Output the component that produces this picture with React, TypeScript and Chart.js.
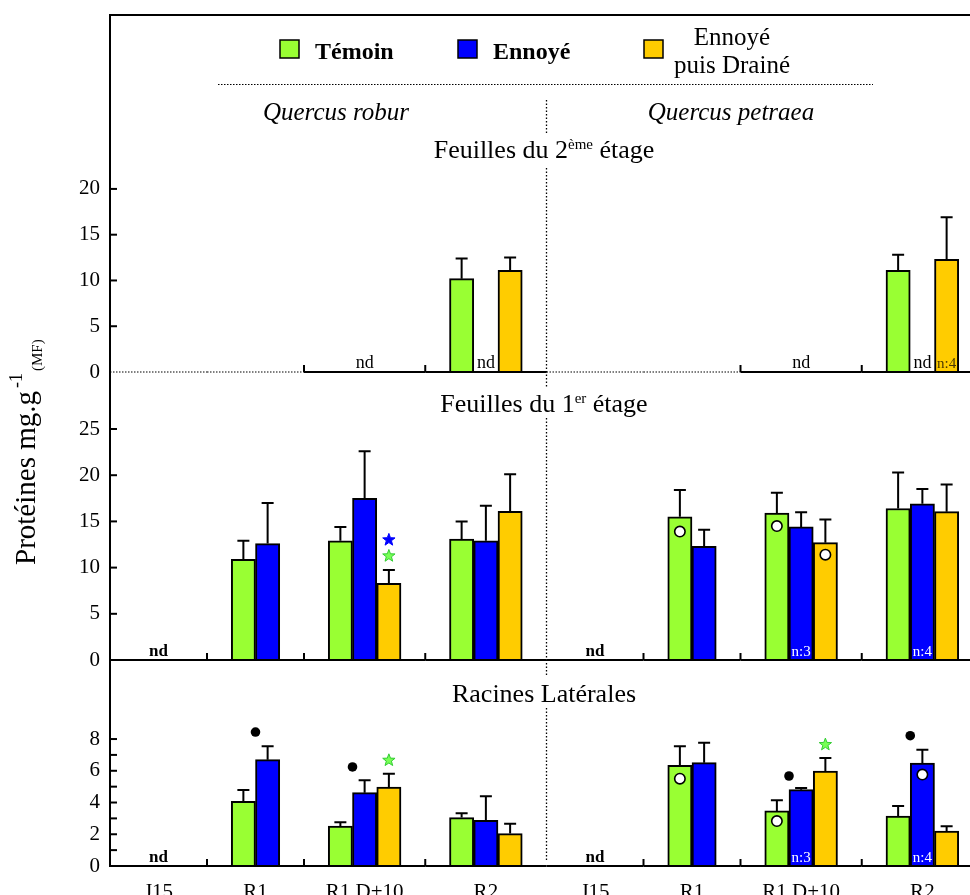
import React, { useEffect, useRef } from 'react';
import { Chart, registerables } from 'chart.js';

Chart.register(...registerables);

// ---------- data ----------
const groups = ['J15', 'R1', 'R1 D+10', 'R2', 'J15', 'R1', 'R1 D+10', 'R2'];
const groupSlots = [4, 4, 5, 5, 4, 4, 5, 5];
const speciesNames = ['Quercus robur', 'Quercus petraea'];
const seriesNames = ['Témoin', 'Ennoyé', 'Ennoyé puis Drainé'];

// Feuilles du 2ème étage
const f2Temoin = [null, null, null, 10.2, null, null, null, 11.1];
const f2TemoinErr = [null, null, null, 2.2, null, null, null, 1.7];
const f2Ennoye = [null, null, null, null, null, null, null, null];
const f2EnnoyeErr = [null, null, null, null, null, null, null, null];
const f2Draine = [null, null, null, 11.1, null, null, null, 12.3];
const f2DraineErr = [null, null, null, 1.4, null, null, null, 4.6];
const f2Sampled = [false, false, true, true, false, false, true, true];
const f2Ticks = [0, 5, 10, 15, 20];
const f2Nd = [{ g: 2, pos: 1 }, { g: 3, pos: 1 }, { g: 6, pos: 1 }, { g: 7, pos: 1 }];
const f2N = [{ g: 7, pos: 2, text: 'n:4' }];

// Feuilles du 1er étage
const f1Temoin = [null, 10.9, 12.9, 13.1, null, 15.5, 15.9, 16.4];
const f1TemoinErr = [null, 2.0, 1.5, 1.9, null, 2.9, 2.2, 3.9];
const f1Ennoye = [null, 12.6, 17.5, 12.9, null, 12.3, 14.4, 16.9];
const f1EnnoyeErr = [null, 4.4, 5.1, 3.8, null, 1.8, 1.6, 1.6];
const f1Draine = [null, null, 8.3, 16.1, null, null, 12.7, 16.05];
const f1DraineErr = [null, null, 1.45, 4.0, null, null, 2.5, 2.95];
const f1Sampled = [true, true, true, true, true, true, true, true];
const f1Ticks = [0, 5, 10, 15, 20, 25];
const f1Nd = [{ g: 0, pos: 0.5 }, { g: 4, pos: 0.5 }];
const f1N = [{ g: 6, pos: 1, text: 'n:3' }, { g: 7, pos: 1, text: 'n:4' }];
const f1Marks = [
  { g: 2, pos: 2, v: 13.0, kind: 'starBlue' },
  { g: 2, pos: 2, v: 11.26, kind: 'starGreen' },
  { g: 5, pos: 0, v: 13.9, kind: 'open' },
  { g: 6, pos: 0, v: 14.5, kind: 'open' },
  { g: 6, pos: 2, v: 11.4, kind: 'open' },
];

// Racines Latérales
const rTemoin = [null, 4.08, 2.52, 3.05, null, 6.34, 3.47, 3.15];
const rTemoinErr = [null, 0.71, 0.23, 0.27, null, 1.2, 0.67, 0.63];
const rEnnoye = [null, 6.7, 4.62, 2.88, null, 6.51, 4.81, 6.49];
const rEnnoyeErr = [null, 0.84, 0.78, 1.51, null, 1.26, 0.1, 0.84];
const rDraine = [null, null, 4.98, 2.04, null, null, 5.98, 2.2];
const rDraineErr = [null, null, 0.84, 0.63, null, null, 0.82, 0.3];
const rSampled = [true, true, true, true, true, true, true, true];
const rTicks = [0, 2, 4, 6, 8];
const rMinor = [1, 3, 5, 7];
const rNd = [{ g: 0, pos: 0.5 }, { g: 4, pos: 0.5 }];
const rN = [{ g: 6, pos: 1, text: 'n:3' }, { g: 7, pos: 1, text: 'n:4' }];
const rMarks = [
  { g: 1, pos: 0.5, v: 8.44, kind: 'dot' },
  { g: 2, pos: 0.5, v: 6.24, kind: 'dot' },
  { g: 2, pos: 2, v: 6.66, kind: 'starGreen' },
  { g: 5, pos: 0, v: 5.5, kind: 'open' },
  { g: 6, pos: 0, v: 2.83, kind: 'open' },
  { g: 6, pos: 0.5, v: 5.67, kind: 'dot' },
  { g: 6, pos: 2, v: 7.65, kind: 'starGreen' },
  { g: 7, pos: 0.5, v: 8.21, kind: 'dot' },
  { g: 7, pos: 1, v: 5.76, kind: 'open' },
];

// ---------- layout / style ----------
const CW = 1000;
const CH = 895;
const PLOT_LEFT = 110;
const PLOT_RIGHT = 983;
const SERIF = '"Liberation Serif", "Times New Roman", Times, serif';
const colors = ['#99ff33', '#0000ff', '#ffcc00'];

const slotStart = groupSlots.map((_, i) => groupSlots.slice(0, i).reduce((a, b) => a + b, 0));
const nSlots = groupSlots.reduce((a, b) => a + b, 0);

function toSlots(vals: (number | null)[], t: number) {
  const out: (number | null)[] = new Array(nSlots).fill(null);
  vals.forEach((v, g) => {
    if (v != null) out[slotStart[g] + 1 + t] = v;
  });
  return out;
}

const panels = [
  {
    top: 15, bottom: 372, max: 39.0, ticks: f2Ticks, minor: [] as number[],
    series: [[f2Temoin, f2TemoinErr], [f2Ennoye, f2EnnoyeErr], [f2Draine, f2DraineErr]],
    sampled: f2Sampled, marks: [] as any[], nd: f2Nd, nText: f2N, ndBold: false,
    title: [{ t: 'Feuilles du 2', s: 0 }, { t: 'ème', s: 1 }, { t: ' étage', s: 0 }], titleY: 158,
    nColor: '#4a3800', xLabels: false,
  },
  {
    top: 372, bottom: 660, max: 31.17, ticks: f1Ticks, minor: [] as number[],
    series: [[f1Temoin, f1TemoinErr], [f1Ennoye, f1EnnoyeErr], [f1Draine, f1DraineErr]],
    sampled: f1Sampled, marks: f1Marks, nd: f1Nd, nText: f1N, ndBold: true,
    title: [{ t: 'Feuilles du 1', s: 0 }, { t: 'er', s: 1 }, { t: ' étage', s: 0 }], titleY: 412,
    nColor: '#ffffff', xLabels: false,
  },
  {
    top: 660, bottom: 866, max: 12.98, ticks: rTicks, minor: rMinor,
    series: [[rTemoin, rTemoinErr], [rEnnoye, rEnnoyeErr], [rDraine, rDraineErr]],
    sampled: rSampled, marks: rMarks, nd: rNd, nText: rN, ndBold: true,
    title: [{ t: 'Racines Latérales', s: 0 }], titleY: 702,
    nColor: '#ffffff', xLabels: true,
  },
];

function drawStar(ctx: CanvasRenderingContext2D, x: number, y: number, ro: number, ri: number, fill: string, stroke: string) {
  ctx.beginPath();
  for (let i = 0; i < 10; i++) {
    const r = i % 2 ? ri : ro;
    const a = -Math.PI / 2 + (i * Math.PI) / 5;
    const px = x + r * Math.cos(a);
    const py = y + r * Math.sin(a);
    if (i === 0) ctx.moveTo(px, py);
    else ctx.lineTo(px, py);
  }
  ctx.closePath();
  ctx.fillStyle = fill;
  ctx.fill();
  ctx.lineWidth = 1;
  ctx.strokeStyle = stroke;
  ctx.stroke();
}

function drawRich(ctx: CanvasRenderingContext2D, parts: { text: string; font: string; dy: number; gap?: number }[], x: number, y: number, align: 'left' | 'center') {
  ctx.textAlign = 'left';
  ctx.textBaseline = 'alphabetic';
  const widths = parts.map((p) => {
    ctx.font = p.font;
    return ctx.measureText(p.text).width + (p.gap || 0);
  });
  const total = widths.reduce((a, b) => a + b, 0);
  let cx = align === 'center' ? x - total / 2 : x;
  parts.forEach((p, i) => {
    ctx.font = p.font;
    cx += p.gap || 0;
    ctx.fillText(p.text, cx, y + p.dy);
    cx += widths[i] - (p.gap || 0);
  });
}

function makePanelPlugin(p: any, idx: number) {
  return {
    id: 'panelDecor' + idx,
    afterDatasetsDraw(chart: any) {
      const ctx: CanvasRenderingContext2D = chart.ctx;
      const xs = chart.scales.x;
      const ys = chart.scales.y;
      const area = chart.chartArea;
      const bound = (s: number) => xs.getPixelForValue(s - 0.5);
      const y0 = ys.getPixelForValue(0);
      ctx.save();
      ctx.strokeStyle = '#000';
      ctx.fillStyle = '#000';

      // error bars (upper only)
      chart.data.datasets.forEach((ds: any, di: number) => {
        const meta = chart.getDatasetMeta(di);
        ds.data.forEach((v: number | null, j: number) => {
          const e = ds.errData[j];
          if (v == null || e == null) return;
          const bar = meta.data[j];
          const x = bar.x;
          const yt = ys.getPixelForValue(v + e);
          const yb = ys.getPixelForValue(v);
          ctx.setLineDash([]);
          ctx.lineWidth = 2;
          ctx.beginPath();
          ctx.moveTo(x, yb);
          ctx.lineTo(x, yt);
          ctx.moveTo(x - 6, yt);
          ctx.lineTo(x + 6, yt);
          ctx.stroke();
        });
      });

      // x axis line with group ticks
      groups.forEach((_, g) => {
        const xl = bound(slotStart[g]);
        const xr = bound(slotStart[g] + groupSlots[g]);
        ctx.beginPath();
        if (p.sampled[g]) {
          ctx.setLineDash([]);
          ctx.lineWidth = 2;
        } else {
          ctx.setLineDash([1.5, 1.5]);
          ctx.lineWidth = 1.2;
        }
        ctx.moveTo(xl, y0);
        ctx.lineTo(xr, y0);
        ctx.stroke();
        if (p.sampled[g] && g % 4 !== 0) {
          ctx.setLineDash([]);
          ctx.lineWidth = 2;
          ctx.beginPath();
          ctx.moveTo(xl, y0);
          ctx.lineTo(xl, y0 - 7);
          ctx.stroke();
        }
      });
      ctx.setLineDash([]);

      // left axis line
      ctx.lineWidth = 2;
      ctx.beginPath();
      ctx.moveTo(area.left, idx === 0 ? area.top - 1 : area.top);
      ctx.lineTo(area.left, y0 + 1);
      ctx.stroke();
      // top frame line
      if (idx === 0) {
        ctx.beginPath();
        ctx.moveTo(area.left - 1, area.top);
        ctx.lineTo(chart.width, area.top);
        ctx.stroke();
      }
      // inward y ticks
      [...p.ticks, ...p.minor].forEach((v: number) => {
        if (v === 0) return;
        const y = ys.getPixelForValue(v);
        ctx.beginPath();
        ctx.moveTo(area.left, y);
        ctx.lineTo(area.left + 7, y);
        ctx.stroke();
      });

      // significance markers
      p.marks.forEach((m: any) => {
        const x = xs.getPixelForValue(slotStart[m.g] + 1 + m.pos);
        const y = ys.getPixelForValue(m.v);
        if (m.kind === 'dot') {
          ctx.beginPath();
          ctx.arc(x, y, 4.8, 0, Math.PI * 2);
          ctx.fillStyle = '#000';
          ctx.fill();
        } else if (m.kind === 'open') {
          ctx.beginPath();
          ctx.arc(x, y, 5.2, 0, Math.PI * 2);
          ctx.fillStyle = '#fff';
          ctx.fill();
          ctx.lineWidth = 1.6;
          ctx.strokeStyle = '#000';
          ctx.stroke();
        } else if (m.kind === 'starBlue') {
          drawStar(ctx, x, y, 6.5, 2.7, '#0000ff', '#0000ff');
        } else if (m.kind === 'starGreen') {
          drawStar(ctx, x, y, 6.5, 2.7, '#77ff55', '#33cc33');
        }
      });

      // nd labels
      ctx.fillStyle = '#000';
      ctx.textAlign = 'center';
      ctx.textBaseline = 'alphabetic';
      ctx.font = (p.ndBold ? 'bold 17px ' : '18px ') + SERIF;
      p.nd.forEach((n: any) => {
        const x = xs.getPixelForValue(slotStart[n.g] + 1 + n.pos);
        ctx.fillText('nd', x, y0 - 4);
      });
      // n: labels
      ctx.font = '15px ' + SERIF;
      ctx.fillStyle = p.nColor;
      p.nText.forEach((n: any) => {
        const x = xs.getPixelForValue(slotStart[n.g] + 1 + n.pos);
        ctx.fillText(n.text, x, y0 - 4);
      });

      // panel title
      ctx.fillStyle = '#000';
      drawRich(
        ctx,
        p.title.map((t: any) => ({ text: t.t, font: (t.s ? '15px ' : '26px ') + SERIF, dy: t.s ? -9 : 0 })),
        544,
        p.titleY,
        'center'
      );

      // x labels
      if (p.xLabels) {
        ctx.font = '21px ' + SERIF;
        ctx.textAlign = 'center';
        ctx.textBaseline = 'alphabetic';
        groups.forEach((lab, g) => {
          const xc = (bound(slotStart[g]) + bound(slotStart[g] + groupSlots[g])) / 2;
          ctx.fillText(lab, xc, y0 + 32);
        });
      }

      // global decorations (drawn once)
      if (idx === 0) {
        // legend
        const boxes = [280, 458, 644];
        boxes.forEach((bx, t) => {
          ctx.fillStyle = colors[t];
          ctx.fillRect(bx, 40, 19, 18);
          ctx.lineWidth = 1.5;
          ctx.strokeStyle = '#000';
          ctx.strokeRect(bx, 40, 19, 18);
        });
        ctx.fillStyle = '#000';
        ctx.textAlign = 'left';
        ctx.font = 'bold 24px ' + SERIF;
        ctx.fillText(seriesNames[0], 315, 59);
        ctx.fillText(seriesNames[1], 493, 59);
        ctx.textAlign = 'center';
        ctx.font = '25px ' + SERIF;
        const third = seriesNames[2].split(' puis ');
        ctx.fillText(third[0], 732, 45);
        ctx.fillText('puis ' + third[1], 732, 73);

        // dotted rule under legend
        ctx.strokeStyle = '#000';
        ctx.lineWidth = 1;
        ctx.setLineDash([1.5, 1.5]);
        ctx.beginPath();
        ctx.moveTo(218, 84.5);
        ctx.lineTo(873, 84.5);
        ctx.stroke();

        // species names
        ctx.font = 'italic 25px ' + SERIF;
        ctx.fillText(speciesNames[0], 336, 120);
        ctx.fillText(speciesNames[1], 731, 120);

        // vertical dotted separator between species
        const sx = Math.round(bound(slotStart[4])) - 0.5;
        ctx.lineWidth = 1.3;
        ctx.setLineDash([1.5, 2]);
        [[100, 134], [168, 387], [418, 675], [708, 862]].forEach(([a, b]) => {
          ctx.beginPath();
          ctx.moveTo(sx, a);
          ctx.lineTo(sx, b);
          ctx.stroke();
        });
        ctx.setLineDash([]);

        // y axis title
        ctx.save();
        ctx.translate(35, 565);
        ctx.rotate(-Math.PI / 2);
        ctx.fillStyle = '#000';
        drawRich(
          ctx,
          [
            { text: 'Protéines mg.g', font: '29px ' + SERIF, dy: 0 },
            { text: '-1', font: '18px ' + SERIF, dy: -13, gap: 3 },
            { text: '(MF)', font: '15px ' + SERIF, dy: 7, gap: 2 },
          ],
          0,
          0,
          'left'
        );
        ctx.restore();
      }
      ctx.restore();
    },
  };
}

function buildConfig(p: any, idx: number): any {
  return {
    type: 'bar',
    data: {
      labels: Array.from({ length: nSlots }, (_, i) => String(i)),
      datasets: p.series.map((s: any, t: number) => ({
        label: seriesNames[t],
        data: toSlots(s[0], t),
        errData: toSlots(s[1], t),
        backgroundColor: colors[t],
        borderColor: '#000',
        borderWidth: 2,
        grouped: false,
        barPercentage: 1,
        categoryPercentage: 1,
      })),
    },
    options: {
      responsive: false,
      animation: false,
      events: [],
      layout: { padding: { left: 0, right: CW - PLOT_RIGHT, top: p.top, bottom: CH - p.bottom } },
      plugins: { legend: { display: false }, tooltip: { enabled: false }, title: { display: false } },
      scales: {
        x: { type: 'category', display: false, offset: true, grid: { display: false } },
        y: {
          type: 'linear',
          min: 0,
          max: p.max,
          afterBuildTicks: (s: any) => {
            s.ticks = p.ticks.map((v: number) => ({ value: v }));
          },
          afterFit: (s: any) => {
            s.width = PLOT_LEFT;
            s.paddingTop = 0;
            s.paddingBottom = 0;
          },
          grid: { display: false, drawTicks: true, tickLength: 10 },
          border: { display: false },
          ticks: { color: '#000', padding: 0, font: { family: SERIF, size: 21 } },
        },
      },
    },
    plugins: [makePanelPlugin(p, idx)],
  };
}

export default function App() {
  const r0 = useRef<HTMLCanvasElement>(null);
  const r1 = useRef<HTMLCanvasElement>(null);
  const r2 = useRef<HTMLCanvasElement>(null);
  const refs = [r0, r1, r2];
  useEffect(() => {
    const charts = panels.map((p, i) => new Chart(refs[i].current as HTMLCanvasElement, buildConfig(p, i)));
    return () => charts.forEach((c) => c.destroy());
  }, []);
  return (
    <div style={{ position: 'absolute', left: 0, top: 0, width: 970, height: 895, overflow: 'hidden', background: '#fff' }}>
      {panels.map((_, i) => (
        <canvas key={i} ref={refs[i]} width={CW} height={CH} style={{ position: 'absolute', left: 0, top: 0, width: CW, height: CH }} />
      ))}
    </div>
  );
}
